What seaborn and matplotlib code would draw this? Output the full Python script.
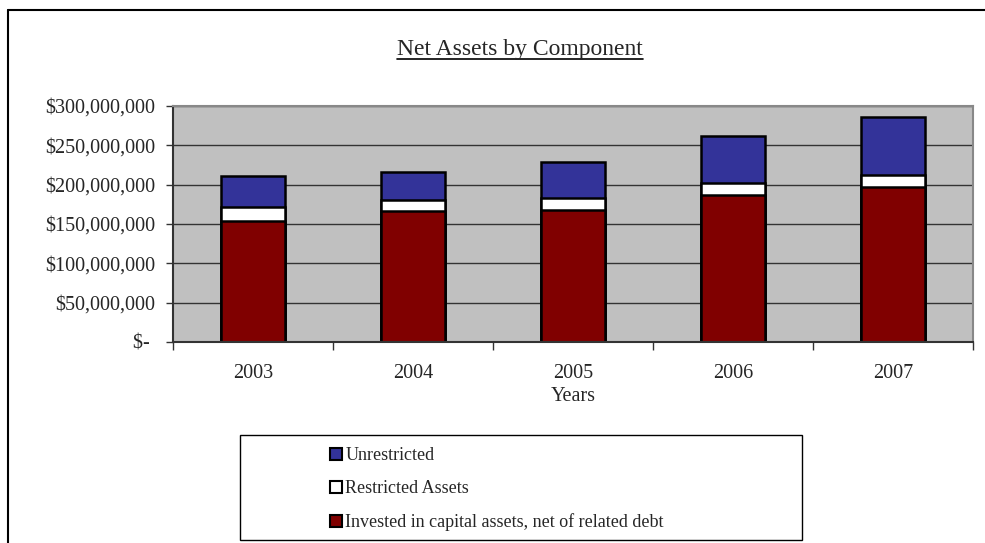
import matplotlib
matplotlib.use("Agg")
import matplotlib.pyplot as plt
import seaborn as sns
import pandas as pd
import numpy as np
from matplotlib.patches import Patch, Rectangle
from matplotlib.lines import Line2D
from matplotlib.ticker import FuncFormatter

years = ["2003", "2004", "2005", "2006", "2007"]
invested = [154e6, 166e6, 168e6, 187e6, 197e6]
restricted = [17e6, 15e6, 15e6, 14.5e6, 15e6]
unrestricted = [40.5e6, 35e6, 45.5e6, 60.5e6, 73.5e6]
series_names = ["Unrestricted", "Restricted Assets",
                "Invested in capital assets, net of related debt"]
colors = {"Unrestricted": "#333399", "Restricted Assets": "#FFFFFF",
          "Invested in capital assets, net of related debt": "#800000"}

sns.set_theme(style="white")
plt.rcParams['font.family'] = ['Liberation Serif', 'DejaVu Serif']

df = pd.DataFrame({"Year": years, "inv": invested, "res": restricted, "unr": unrestricted})
df["c_inv"] = df["inv"]
df["c_res"] = df["inv"] + df["res"]
df["c_unr"] = df["c_res"] + df["unr"]

fig = plt.figure(figsize=(9.85, 5.43), dpi=100)
W, H = 985, 543
ax = fig.add_axes([173 / W, 1 - 342 / H, 800 / W, (342 - 106) / H])
ax.set_facecolor("#C0C0C0")
ax.set_axisbelow(True)
ax.yaxis.grid(True, color="#333333", linewidth=1.0)

for col, name in [("c_unr", series_names[0]), ("c_res", series_names[1]), ("c_inv", series_names[2])]:
    sns.barplot(data=df, x="Year", y=col, color=colors[name], saturation=1,
                width=0.4, edgecolor="black", linewidth=1.8, ax=ax)

ax.set_xlim(-0.5, 4.5)
ax.set_ylim(0, 300e6)
ax.set_yticks(np.arange(0, 300e6 + 1, 50e6))

def fmt(v, pos):
    if v == 0:
        return "$- "
    return "${:,.0f}".format(v)

ax.yaxis.set_major_formatter(FuncFormatter(fmt))
ax.set_xticks(np.arange(-0.5, 5, 1.0), minor=True)
ax.tick_params(axis="x", which="major", length=0, pad=16, labelsize=14.5)
ax.tick_params(axis="x", which="minor", length=6, width=1, color="#333333", bottom=True)
ax.tick_params(axis="y", length=5, width=1, color="#333333", left=True, labelsize=14.5, pad=8)
ax.set_xlabel("Years", fontsize=14.5, labelpad=3)
ax.set_ylabel("")
for s in ["left", "bottom"]:
    ax.spines[s].set_color("#333333")
    ax.spines[s].set_linewidth(1.5)
for s in ["top", "right"]:
    ax.spines[s].set_color("#888888")
    ax.spines[s].set_linewidth(1.5)

# title with underline
t = fig.text(520 / W, 1 - 50 / H, "Net Assets by Component", ha="center", va="center", fontsize=17)
fig.canvas.draw()
bb = t.get_window_extent(renderer=fig.canvas.get_renderer())
fig.add_artist(Line2D([bb.x0 / W, bb.x1 / W], [(bb.y0 + 2) / H, (bb.y0 + 2) / H],
                      transform=fig.transFigure, color="black", linewidth=1.2))

# outer frame (top and left)
fig.add_artist(Line2D([8 / W, 1.0], [1 - 10 / H, 1 - 10 / H], transform=fig.transFigure,
                      color="black", linewidth=1.5))
fig.add_artist(Line2D([8 / W, 8 / W], [0, 1 - 10 / H], transform=fig.transFigure,
                      color="black", linewidth=1.5))

# legend box
fig.add_artist(Rectangle((240 / W, 1 - 540 / H), (802 - 240) / W, (540 - 435) / H,
                         transform=fig.transFigure, facecolor="white", edgecolor="black",
                         linewidth=1.0))
handles = [Patch(facecolor=colors[n], edgecolor="black", linewidth=1.5) for n in series_names]
leg = fig.legend(handles, series_names, loc="upper left",
                 bbox_to_anchor=(330 / W, 1 - 447 / H), frameon=False, fontsize=13,
                 handlelength=0.65, handleheight=0.65, handletextpad=0.2,
                 labelspacing=0.9, borderaxespad=0, borderpad=0)

fig.savefig("out.png", dpi=100, facecolor="white")
